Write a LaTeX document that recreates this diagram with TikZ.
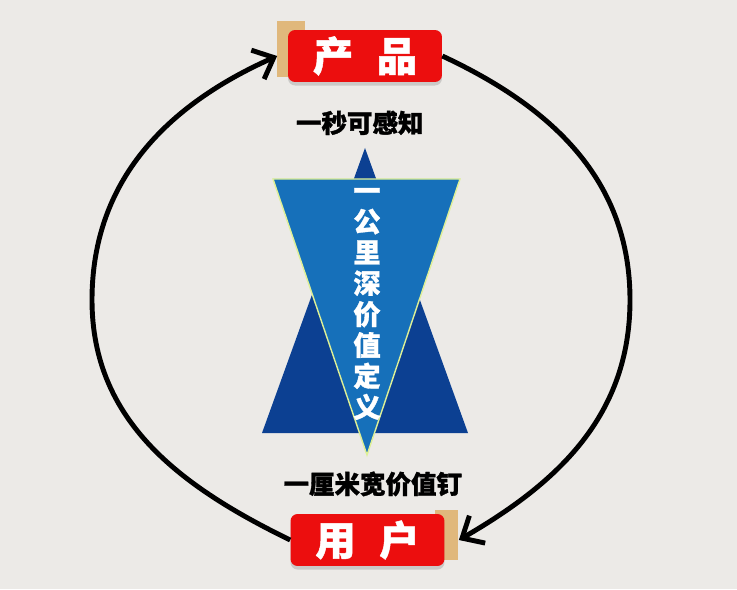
\documentclass[tikz,border=0pt]{standalone}
\usepackage{fontspec}
\newfontfamily\cjk{Noto Sans CJK SC}[BoldFeatures={FakeBold=1.2}]
\usetikzlibrary{arrows.meta, positioning, shadows}
\definecolor{paper}{RGB}{236,234,231}
\definecolor{boxred}{RGB}{236,14,14}
\definecolor{tagtan}{RGB}{224,184,124}
\definecolor{deepblue}{RGB}{12,64,146}
\definecolor{midblue}{RGB}{22,112,186}
\definecolor{rimgreen}{RGB}{222,240,150}
\tikzstyle{redbox}=[rectangle, rounded corners=4pt, fill=boxred, text=white,
  minimum width=3.08cm, minimum height=1.04cm,
  font=\cjk\bfseries\fontsize{23}{26}\selectfont,
  drop shadow={shadow xshift=0pt, shadow yshift=-2pt, opacity=0.3}]
\tikzstyle{tag}=[rectangle, fill=tagtan, inner sep=0]
\tikzstyle{slogan}=[inner sep=0, font=\cjk\bfseries\fontsize{14.5}{17}\selectfont]
\tikzstyle{cyclearrow}=[line width=2.8pt, -{Straight Barb[length=10pt,width=18pt]}]

\begin{document}
\begin{tikzpicture}[x=0.02cm, y=0.02cm]
    \fill[paper] (0,0) rectangle (737,589);
    % triangles
    \fill[deepblue] (262,156) -- (365,441) -- (468,156) -- cycle;
    \filldraw[fill=midblue, draw=rimgreen, line width=0.8pt]
      (273,410) -- (460,410) -- (367,134) -- cycle;
    \node[align=center, text=white, inner sep=0,
      font=\cjk\bfseries\fontsize{15.5}{17.6}\selectfont] (depth) at (367,285)
      {一\\公\\里\\深\\价\\值\\定\\义};
    % boxes
    \node[tag, minimum width=0.56cm, minimum height=1.14cm] (prodtag) at (291,540) {};
    \node[redbox] (product) at (365,533) {产\hspace{0.58em}品};
    \node[tag, minimum width=0.46cm, minimum height=1.0cm] (usertag) at (446.5,54) {};
    \node[redbox] (user) at (367.5,49) {用\hspace{0.58em}户};
    \node[slogan, below=0.56cm of product, xshift=-3] (glance) {一秒可感知};
    \node[slogan, above=0.34cm of user, xshift=3] (nail) {一厘米宽价值钉};
    % cycle
    \coordinate (leftmost) at (92,289);
    \coordinate (rightmost) at (630,289);
    \draw[cyclearrow] (user.west) to[out=154, in=-90] (leftmost)
      to[out=90, in=204] ([xshift=-6]product.west);
    \draw[cyclearrow] (product.east) to[out=-25, in=90] (rightmost)
      to[out=-90, in=30] ([xshift=8]user.east);
\end{tikzpicture}
\end{document}
